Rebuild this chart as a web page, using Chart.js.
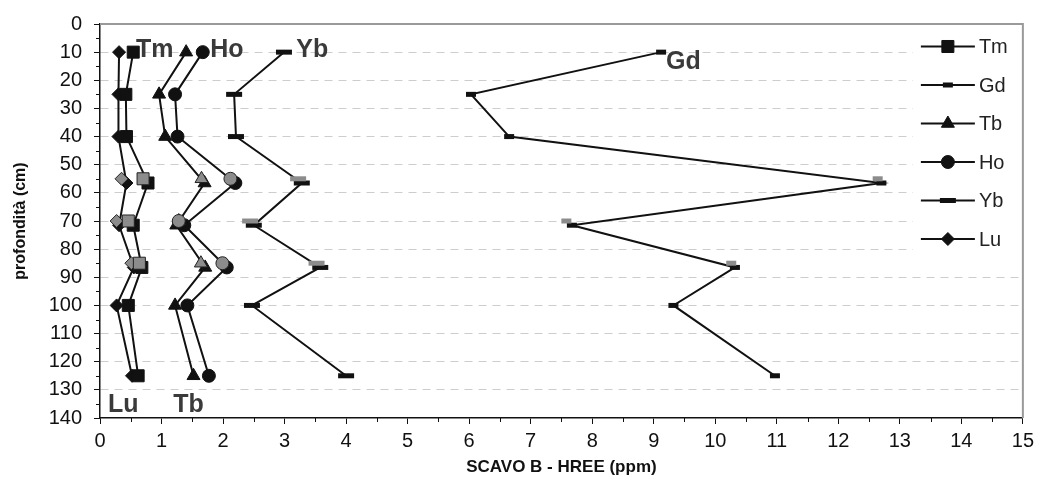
<!DOCTYPE html>
<html>
<head>
<meta charset="utf-8">
<script src="https://cdn.jsdelivr.net/npm/chart.js@4/dist/chart.umd.min.js"></script>
<style>
  html, body { margin: 0; padding: 0; background: #fff; }
  #wrap { width: 1039px; height: 496px; position: relative; }
</style>
</head>
<body>
<div id="wrap"><canvas id="c"></canvas></div>
<script>
// Sampling depths (cm) of the main profile and of the repeated samples
const depths = [10, 25, 40, 56.5, 71.5, 86.5, 100, 125];
const repeatDepths = [55, 70, 85];

// Concentrations (ppm) along the profile
const tm = [0.54, 0.42, 0.43, 0.78, 0.54, 0.68, 0.46, 0.62];
const gd = [9.12, 6.03, 6.65, 12.70, 7.67, 10.32, 9.32, 10.97];
const tb = [1.40, 0.96, 1.06, 1.70, 1.24, 1.71, 1.22, 1.52];
const ho = [1.67, 1.22, 1.26, 2.20, 1.37, 2.06, 1.42, 1.77];
const yb = [2.99, 2.18, 2.21, 3.28, 2.50, 3.58, 2.47, 4.00];
const lu = [0.31, 0.30, 0.30, 0.43, 0.31, 0.55, 0.27, 0.52];

// Repeated samples (grey markers)
const tmRep = [0.70, 0.46, 0.64];
const gdRep = [12.64, 7.58, 10.26];
const tbRep = [1.65, 1.28, 1.64];
const hoRep = [2.12, 1.28, 1.99];
const ybRep = [3.22, 2.44, 3.52];
const luRep = [0.35, 0.27, 0.51];

// Tick values
const xTicks = [0, 15, 1];
const yTicks = [0, 140, 10];

// Element names written inside the plot, at value/depth coordinates
const tagNames = ['Tm', 'Ho', 'Yb', 'Gd', 'Lu', 'Tb'];
const tagX = [0.585, 1.79, 3.19, 9.2, 0.13, 1.19];
const tagY = [11.7, 11.7, 11.7, 16.1, 137.8, 137.8];

const FAM = '"Liberation Sans", Arial, Helvetica, sans-serif';
const INK = '#111';
const GREY = '#8c8c8c';

const markers = {
  Tm: { pointStyle: 'rect', pointRadius: 8.5, pointBorderWidth: 1 },
  Gd: { pointStyle: 'line', pointRadius: 5, pointBorderWidth: 5 },
  Tb: { pointStyle: 'triangle', pointRadius: 7.5, pointBorderWidth: 1 },
  Ho: { pointStyle: 'circle', pointRadius: 6.5, pointBorderWidth: 1 },
  Yb: { pointStyle: 'line', pointRadius: 8, pointBorderWidth: 5 },
  Lu: { pointStyle: 'rectRot', pointRadius: 6.5, pointBorderWidth: 1 }
};

const pairs = (xs, ys) => xs.map((v, i) => ({ x: v, y: ys[i] }));

function mainSet(label, values) {
  const m = markers[label];
  return Object.assign({
    label,
    data: pairs(values, depths),
    showLine: true,
    borderColor: INK,
    borderWidth: 2,
    pointBackgroundColor: INK,
    pointBorderColor: INK,
    order: 1
  }, m);
}

function repSet(label, values) {
  const m = markers[label];
  const isBar = m.pointStyle === 'line';
  return Object.assign({
    label: label + ' (rep.)',
    data: pairs(values, repeatDepths),
    showLine: false,
    pointBackgroundColor: GREY,
    pointBorderColor: isBar ? GREY : '#222',
    order: 0
  }, m);
}

const mainSets = [
  mainSet('Tm', tm), mainSet('Gd', gd), mainSet('Tb', tb),
  mainSet('Ho', ho), mainSet('Yb', yb), mainSet('Lu', lu)
];
// earlier entries are painted on top
const repSets = [
  repSet('Tm', tmRep), repSet('Gd', gdRep), repSet('Ho', hoRep),
  repSet('Tb', tbRep), repSet('Yb', ybRep), repSet('Lu', luRep)
];

function marker(ctx, ds, x, y) {
  ctx.save();
  ctx.fillStyle = ds.pointBackgroundColor;
  ctx.strokeStyle = ds.pointBorderColor;
  ctx.lineWidth = ds.pointBorderWidth;
  Chart.helpers.drawPoint(ctx, {
    pointStyle: ds.pointStyle, radius: ds.pointRadius,
    borderWidth: ds.pointBorderWidth, rotation: 0
  }, x, y);
  ctx.restore();
}

const decor = {
  id: 'decor',
  afterDatasetsDraw(chart) {
    const { ctx, scales: { x, y } } = chart;
    ctx.save();
    ctx.fillStyle = '#3a3a3a';
    ctx.font = 'bold 25px ' + FAM;
    ctx.textAlign = 'left';
    ctx.textBaseline = 'alphabetic';
    tagNames.forEach((t, i) => {
      ctx.fillText(t, x.getPixelForValue(tagX[i]), y.getPixelForValue(tagY[i]));
    });
    ctx.restore();
  },
  afterDraw(chart) {
    const { ctx, chartArea: a, scales: { x, y } } = chart;
    ctx.save();

    // minor ticks
    ctx.strokeStyle = INK;
    ctx.lineWidth = 1;
    ctx.beginPath();
    for (let v = 5; v < 140; v += 10) {
      const py = Math.round(y.getPixelForValue(v)) + 0.5;
      ctx.moveTo(a.left - 4, py); ctx.lineTo(a.left, py);
    }
    for (let v = 0.5; v < 15; v += 1) {
      const px = Math.round(x.getPixelForValue(v)) + 0.5;
      ctx.moveTo(px, a.bottom); ctx.lineTo(px, a.bottom + 4);
    }
    ctx.stroke();

    // legend panel
    const lx = a.right - 110;
    ctx.fillStyle = '#fff';
    ctx.fillRect(lx, a.top + 2, a.right - lx - 1, 240);
    ctx.font = '20px ' + FAM;
    ctx.textBaseline = 'middle';
    ctx.textAlign = 'left';
    mainSets.forEach((ds, i) => {
      const yy = a.top + 22.5 + i * 38.5;
      ctx.strokeStyle = INK;
      ctx.lineWidth = 2;
      ctx.beginPath();
      ctx.moveTo(lx + 8, yy); ctx.lineTo(lx + 62, yy);
      ctx.stroke();
      marker(ctx, ds, lx + 35, yy);
      ctx.fillStyle = '#222';
      ctx.fillText(ds.label, lx + 66, yy + 1);
    });

    // plot frame (top and right)
    ctx.strokeStyle = '#9a9a9a';
    ctx.lineWidth = 2;
    ctx.beginPath();
    ctx.moveTo(a.left, a.top); ctx.lineTo(a.right, a.top); ctx.lineTo(a.right, a.bottom);
    ctx.stroke();
    ctx.restore();
  }
};

new Chart(document.getElementById('c'), {
  type: 'scatter',
  data: { datasets: [...repSets, ...mainSets] },
  options: {
    responsive: true,
    maintainAspectRatio: false,
    animation: false,
    layout: { padding: { left: 0, right: 16, top: 21, bottom: 0 } },
    plugins: { legend: { display: false }, tooltip: { enabled: false } },
    elements: { line: { tension: 0 } },
    scales: {
      x: {
        type: 'linear',
        min: xTicks[0], max: xTicks[1],
        ticks: { stepSize: xTicks[2], color: INK, font: { size: 20, family: FAM }, padding: 5, maxRotation: 0 },
        grid: { drawOnChartArea: false, drawTicks: true, tickLength: 6, tickColor: INK, tickWidth: 1 },
        border: { color: INK, width: 1.5 },
        title: {
          display: true, text: 'SCAVO B - HREE (ppm)', color: INK,
          font: { size: 17, weight: 'bold', family: FAM }, padding: { top: 0, bottom: 18 }
        },
        afterFit(s) { s.height = 78; }
      },
      y: {
        type: 'linear',
        reverse: true,
        min: yTicks[0], max: yTicks[1],
        ticks: { stepSize: yTicks[2], color: INK, font: { size: 20, family: FAM }, padding: 12 },
        grid: {
          color: c => (c.tick && (c.tick.value === yTicks[0] || c.tick.value === yTicks[1])) ? 'rgba(0,0,0,0)' : '#cdcdcd',
          lineWidth: 1, drawTicks: true, tickLength: 6, tickColor: INK, tickWidth: 1
        },
        border: { color: INK, width: 1.5, dash: [8, 6] },
        title: {
          display: true, text: 'profondità (cm)', color: INK,
          font: { size: 16, weight: 'bold', family: FAM }, padding: { top: 11, bottom: 0 }
        },
        afterFit(s) { s.width = 100; }
      }
    }
  },
  plugins: [decor]
});
</script>
</body>
</html>
